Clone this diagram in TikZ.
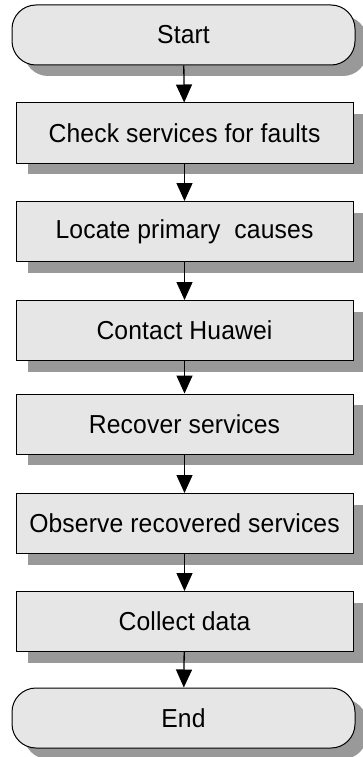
\documentclass[tikz,border=0pt]{standalone}
\usepackage{fontspec}
\setmainfont{Liberation Sans}[FakeStretch=0.95,LetterSpace=0.5]
\usetikzlibrary{arrows.meta,shadows}
\definecolor{boxfill}{RGB}{230,230,230}
\definecolor{shadowgray}{RGB}{153,153,153}
\tikzset{
  stepbox/.style={draw=black, line width=1pt, fill=boxfill, minimum width=337pt, minimum height=60pt,
    inner sep=0pt, font=\fontsize{26}{30}\selectfont,
    drop shadow={shadow xshift=12pt, shadow yshift=-11pt, fill=shadowgray, opacity=1}},
  termbox/.style={stepbox, minimum width=343pt, rounded corners=24pt},
  flow/.style={line width=1.3pt, -{Triangle[length=18pt,width=16pt]}}
}
\begin{document}
\begin{tikzpicture}[x=1pt,y=-1pt]
\useasboundingbox (0,0) rectangle (363,757);
\clip (0,0) rectangle (363,757);
\fill[white] (0,0) rectangle (363,757);
\node[termbox] (start) at (183.5,35) {Start};
\node[stepbox] (check) at (184.5,133) {Check services for faults};
\node[stepbox] (locate) at (184.5,231.5) {Locate primary\ \ causes};
\node[stepbox] (contact) at (184.5,330.5) {Contact Huawei};
\node[stepbox] (recover) at (184.5,424) {Recover services};
\node[stepbox] (observe) at (184.5,523.5) {Observe recovered services};
\node[stepbox] (collect) at (184.5,621.5) {Collect data};
\node[termbox] (end) at (183.5,718) {End};
\draw[flow] (start) -- (check);
\draw[flow] (check) -- (locate);
\draw[flow] (locate) -- (contact);
\draw[flow] (contact) -- (recover);
\draw[flow] (recover) -- (observe);
\draw[flow] (observe) -- (collect);
\draw[flow] (collect) -- (end);
\end{tikzpicture}
\end{document}
